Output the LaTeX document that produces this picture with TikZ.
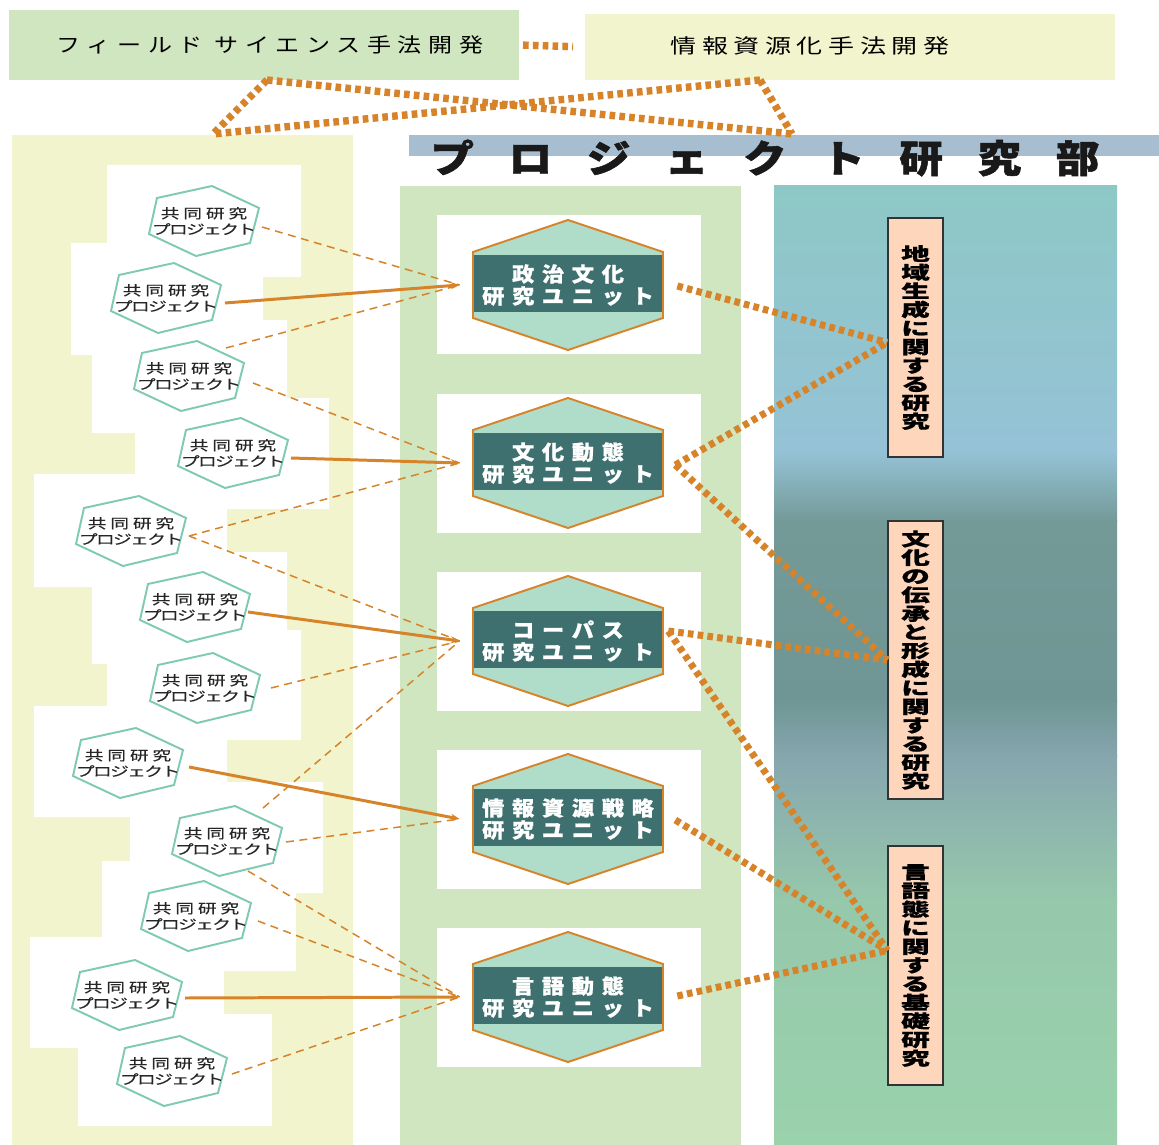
\documentclass[tikz,border=0pt]{standalone}
\usepackage{fontspec}
\usepackage{xcolor}
\usetikzlibrary{calc, arrows.meta, positioning}

\newfontfamily\jp{Noto Sans CJK JP}
\def\pxu{0.02cm}

\definecolor{orng}{RGB}{214,131,42}
\definecolor{fieldgreen}{RGB}{208,230,192}
\definecolor{paleyellow}{RGB}{241,244,204}
\definecolor{barblue}{RGB}{167,189,208}
\definecolor{hexmint}{RGB}{126,202,178}
\definecolor{unitmint}{RGB}{176,221,201}
\definecolor{unitdark}{RGB}{62,112,111}
\definecolor{peach}{RGB}{253,214,188}
\definecolor{gA}{RGB}{142,200,198}
\definecolor{gB}{RGB}{149,194,214}
\definecolor{gC}{RGB}{116,154,152}
\definecolor{gD}{RGB}{111,150,148}
\definecolor{gE}{RGB}{134,166,174}
\definecolor{gF}{RGB}{150,200,172}
\definecolor{gG}{RGB}{154,210,172}

% one joint research project: hexagon + text
\newcommand\projhex[2]{%
  \draw[projline, shift={(#2)}] (8,-35) -- (55,-13) -- (46,22) -- (-8,35) -- (-55,13) -- (-47,-23) -- cycle;
  \node[projnode] (#1) at (#2) {{\addfontfeatures{LetterSpace=29}共同研究}\\{\addfontfeatures{LetterSpace=-12}プロジェクト}};
}

% one research unit: white card, hexagon, dark band, text
\newcommand\unithex[4]{%
  \fill[white] (437,#2-69.5) rectangle (701,#2+69.5);
  \begin{scope}[shift={(568,#2)}]
    \fill[unitmint] (0,-65) -- (95,-33) -- (95,33) -- (0,65) -- (-95,33) -- (-95,-33) -- cycle;
    \fill[unitdark] (-95,-30) rectangle (95,27);
    \draw[orng, line width=1.1pt] (0,-65) -- (95,-33) -- (95,33) -- (0,65) -- (-95,33) -- (-95,-33) -- cycle;
  \end{scope}
  \node[unitnode] (#1) at (568,#2) {#3\\#4};
}

\begin{document}
\begin{tikzpicture}[x=0.02cm, y=-0.02cm,
    topbox/.style={inner sep=0pt, outer sep=0pt},
    projline/.style={draw=hexmint, fill=white, line width=1.1pt},
    projnode/.style={align=center, inner sep=0pt, text=black!85,
      font={\jp\fontsize{7.6pt}{9.1pt}\selectfont\addfontfeatures{FakeStretch=1.4,FakeBold=0.3}}},
    unitnode/.style={align=center, inner sep=0pt, minimum width=190*\pxu, text=white,
      font={\jp\bfseries\fontsize{11.5pt}{12.5pt}\selectfont\addfontfeatures{FakeStretch=1.1,LetterSpace=38,FakeBold=0.8}}},
    resbox/.style={draw=black!80, fill=peach, line width=0.8pt, inner sep=0pt, minimum width=55*\pxu, align=center,
      font={\jp\bfseries\fontsize{10.2pt}{10.6pt}\selectfont\addfontfeatures{FakeStretch=1.6,FakeBold=0.8}}},
    weak/.style={draw=orng, line width=0.85pt, dash pattern=on 4.5pt off 3.2pt},
    strong/.style={draw=orng, line width=1.7pt, -{Stealth[length=5pt,width=4pt]}},
    bigdots/.style={draw=orng, line width=4pt, dash pattern=on 3.2pt off 2.4pt},
    topdots/.style={draw=orng, line width=4.2pt, dash pattern=on 3.2pt off 2.4pt}]

\useasboundingbox[fill=white] (0,0) rectangle (1159,1145);

% top: the two method boxes
\node[topbox, fill=fieldgreen, minimum width=510*\pxu, minimum height=70*\pxu] (field) at (264,45) {};
\node[font={\jp\fontsize{11.4pt}{13pt}\selectfont\addfontfeatures{FakeStretch=1.2,LetterSpace=33}}] (fieldtext) at (270,45) {フィールド サイエンス手法開発};
\node[topbox, fill=paleyellow, minimum width=530*\pxu, minimum height=66*\pxu] (info) at (850,47) {};
\node[font={\jp\fontsize{11.4pt}{13pt}\selectfont\addfontfeatures{FakeStretch=1.3,LetterSpace=28}}] (infotext) at (810,46) {情報資源化手法開発};

% panels
\fill[paleyellow] (12,135) rectangle (353,1145);
\fill[white] (107,165) -- (301,165) -- (301,277) -- (263,277) -- (263,320) -- (287,320) -- (287,398) -- (329,398)
  -- (329,509) -- (227,509) -- (227,552) -- (287,552) -- (287,630) -- (301,630) -- (301,740) -- (227,740)
  -- (227,782) -- (323,782) -- (323,893) -- (296,893) -- (296,971) -- (224,971) -- (224,1014) -- (272,1014)
  -- (272,1126) -- (78,1126) -- (78,1048) -- (30,1048) -- (30,937) -- (102,937) -- (102,861) -- (130,861)
  -- (130,817) -- (34,817) -- (34,706) -- (107,706) -- (107,664) -- (92,664) -- (92,587) -- (34,587)
  -- (34,474) -- (135,474) -- (135,433) -- (92,433) -- (92,355) -- (71,355) -- (71,243) -- (107,243) -- cycle;
\fill[fieldgreen] (400,186) rectangle (741,1145);
\shade[top color=gA, bottom color=gB] (774,186) rectangle (1117,452);
\shade[top color=gB, bottom color=gC] (774,451) rectangle (1117,521);
\shade[top color=gC, bottom color=gD] (774,520) rectangle (1117,701);
\shade[top color=gD, bottom color=gE] (774,700) rectangle (1117,756);
\shade[top color=gE, bottom color=gF] (774,755) rectangle (1117,901);
\shade[top color=gF, bottom color=gG] (774,900) rectangle (1117,1145);

% project research department bar
\fill[barblue] (409,135) rectangle (1159,156);
\node[anchor=west, inner sep=0pt, text=black!90,
  font={\jp\bfseries\fontsize{21.6pt}{24pt}\selectfont\addfontfeatures{FakeStretch=1.15,LetterSpace=91,FakeBold=1.5}}] (title) at (430,158) {プロジェクト研究部};

% links between the method boxes and the panels
\coordinate (fieldfoot) at ($(field.south)+(3,0)$);
\coordinate (infofoot) at ($(info.south)+(-90,0)$);
\coordinate (lefttop) at (213,134);
\coordinate (bartop) at (792,134);
\draw[topdots] (fieldfoot) -- (lefttop);
\draw[topdots] (fieldfoot) -- (bartop);
\draw[topdots] (infofoot) -- (lefttop);
\draw[topdots] (infofoot) -- (bartop);
\draw[topdots, shorten <=2.3pt, shorten >=6.8pt] (field.east) -- (info.west);

% research units
\unithex{u1}{285}{政治文化}{研究ユニット}
\unithex{u2}{463}{文化動態}{研究ユニット}
\unithex{u3}{641}{コーパス}{研究ユニット}
\unithex{u4}{819}{情報資源戦略}{研究ユニット}
\unithex{u5}{997}{言語動態}{研究ユニット}

% joint research projects
\projhex{p1}{204,221}
\projhex{p2}{166,298}
\projhex{p3}{189,376}
\projhex{p4}{233,453}
\projhex{p5}{131,531}
\projhex{p6}{195,607}
\projhex{p7}{205,688}
\projhex{p8}{128,763}
\projhex{p9}{227,841}
\projhex{p10}{196,916}
\projhex{p11}{127,995}
\projhex{p12}{172,1071}

% project -> unit links
\coordinate (u1in) at ($(u1.west)+(-13,0)$);
\coordinate (u2in) at ($(u2.west)+(-13,0)$);
\coordinate (u3in) at ($(u3.west)+(-13,0)$);
\coordinate (u4in) at ($(u4.west)+(-13,0)$);
\coordinate (u5in) at ($(u5.west)+(-13,0)$);
\draw[weak] ($(p1)+(58,6)$) -- (u1in);
\draw[strong] ($(p2)+(59,5)$) -- (u1in);
\draw[weak] ($(p3)+(37,-28)$) -- (u1in);
\draw[weak] ($(p3)+(64,7)$) -- (u2in);
\draw[strong] ($(p4)+(58,5)$) -- (u2in);
\draw[weak] ($(p5)+(58,5)$) -- (u2in);
\draw[weak] ($(p5)+(58,5)$) -- (u3in);
\draw[strong] ($(p6)+(53,5)$) -- (u3in);
\draw[weak] ($(p7)+(66,0)$) -- (u3in);
\draw[weak] ($(p9)+(36,-33)$) -- (u3in);
\draw[strong] ($(p8)+(61,4)$) -- (u4in);
\draw[weak] ($(p9)+(59,1)$) -- (u4in);
\draw[weak] ($(p9)+(21,30)$) -- (u5in);
\draw[weak] ($(p10)+(62,5)$) -- (u5in);
\draw[strong] ($(p11)+(58,3)$) -- (u5in);
\draw[weak] ($(p12)+(60,3)$) -- (u5in);

% research themes
\node[resbox, minimum height=239*\pxu] (b1) at (915.5,337.5) {地\\域\\生\\成\\に\\関\\す\\る\\研\\究};
\node[resbox, minimum height=278*\pxu] (b2) at (915.5,660) {文\\化\\の\\伝\\承\\と\\形\\成\\に\\関\\す\\る\\研\\究};
\node[resbox, minimum height=239*\pxu] (b3) at (915.5,965.5) {言\\語\\態\\に\\関\\す\\る\\基\\礎\\研\\究};

% unit -> theme links
\coordinate (b1in) at ($(b1.west)+(0,5)$);
\coordinate (b2in) at (b2.west);
\coordinate (b3in) at ($(b3.west)+(0,-15)$);
\draw[bigdots] ($(u1.east)+(14,1)$) -- (b1in);
\draw[bigdots] ($(u2.east)+(12,2)$) -- (b1in);
\draw[bigdots] ($(u2.east)+(12,2)$) -- (b2in);
\draw[bigdots] ($(u3.east)+(5,-10)$) -- (b2in);
\draw[bigdots] ($(u3.east)+(5,-10)$) -- (b3in);
\draw[bigdots] ($(u4.east)+(12,1)$) -- (b3in);
\draw[bigdots] ($(u5.east)+(14,-1)$) -- (b3in);
\end{tikzpicture}
\end{document}
